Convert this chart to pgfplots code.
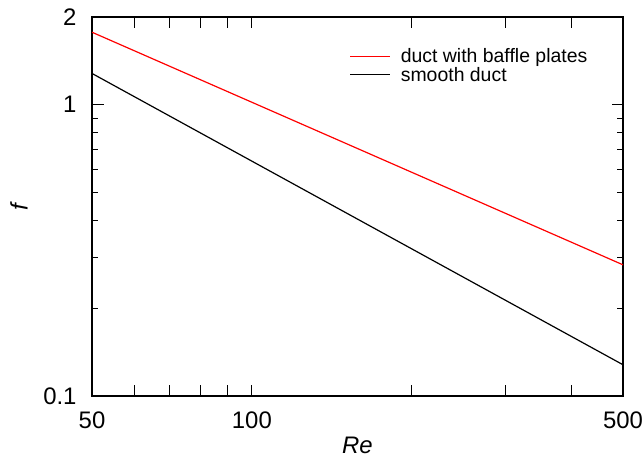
\documentclass[border=0pt]{standalone}
\usepackage{fontspec}
\setmainfont{Liberation Sans}
\usepackage{pgfplots}
\pgfplotsset{compat=1.18}

\begin{document}
\begin{tikzpicture}[x=1bp,y=1bp]
\begin{axis}[
  at={(0,0)}, anchor=south west,
  scale only axis, width=531bp, height=379bp,
  xmode=log, ymode=log,
  xmin=50, xmax=500, ymin=0.1, ymax=2,
  axis line style={line width=1.1bp},
  tick align=inside, tick pos=both,
  xtick={50,60,70,80,90,100,200,300,400,500},
  xticklabels={50,,,,,100,,,,500},
  ytick={0.1,1,2},
  yticklabels={0.1,1,2},
  minor ytick={0.2,0.3,0.4,0.5,0.6,0.7,0.8,0.9},
  major tick length=11.5bp, minor tick length=6bp,
  every tick/.style={black, line width=0.9bp},
  /pgf/number format/assume math mode=true,
  ticklabel style={font=\fontsize{24}{28}\selectfont},
  xticklabel style={yshift=-12bp},
  yticklabel style={xshift=-12bp},
  xlabel={\textit{Re}}, ylabel={\textit{f}},
  label style={font=\fontsize{24}{28}\selectfont},
  xlabel style={at={(axis description cs:0.5,0)}, anchor=center, yshift=-49bp},
  ylabel style={at={(axis description cs:0,0.5)}, anchor=center, yshift=73bp},
  legend style={draw=none, fill=none, font=\fontsize{19.5}{19}\selectfont,
    at={(axis description cs:0.479,0.928)}, anchor=north west,
    row sep=-1bp},
  legend cell align=left,
  legend image code/.code={%
    \draw[#1, line width=1.3bp] (0bp,0bp) -- (40bp,0bp);},
]
\addplot[red, line width=1.2bp] coordinates {(50,1.773) (500,0.282)};
\addlegendentry{\hspace*{8bp}duct with baffle plates}
\addplot[black, line width=1.2bp] coordinates {(50,1.28) (500,0.128)};
\addlegendentry{\hspace*{8bp}smooth duct}
\end{axis}
\pgfresetboundingbox
\path[use as bounding box] (-92,-65) rectangle (550,396);
\end{tikzpicture}
\end{document}
